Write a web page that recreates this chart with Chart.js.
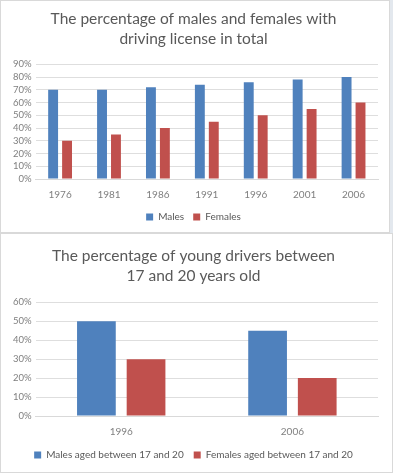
<!DOCTYPE html>
<html>
<head>
<meta charset="utf-8">
<script src="https://cdn.jsdelivr.net/npm/chart.js@4"></script>
<style>
  body { margin: 0; background: #fff; width: 393px; height: 475px; position: relative; overflow: hidden; }
  .panel { position: absolute; background: #fff; border: 1px solid #d9d9d9; box-sizing: border-box; }
  #p1 { left: 0; top: 0; width: 390px; height: 233px; }
  #p2 { left: 0; top: 233px; width: 393px; height: 240px; }
  .strip { position: absolute; left: 390px; top: 0; width: 3px; height: 233px; background: #e3e8ee; }
</style>
</head>
<body>
<div class="strip"></div>
<div class="panel" id="p1"><canvas id="chart1"></canvas></div>
<div class="panel" id="p2"><canvas id="chart2"></canvas></div>
<script>
// chart 1: license holders in total
const years = ['1976', '1981', '1986', '1991', '1996', '2001', '2006'];
const males = [70, 70, 72, 74, 76, 78, 80];
const females = [30, 35, 40, 45, 50, 55, 60];

// chart 2: young drivers 17-20
const youngYears = ['1996', '2006'];
const youngMales = [50, 45];
const youngFemales = [30, 20];

const blue = '#4f81bd';
const red = '#c0504d';
const font = "Lato, 'Open Sans', sans-serif";

function makeChart(id, title, labels, sets, yMax, catPct, barPct, pad, titleGap, legendPad) {
    return new Chart(document.getElementById(id), {
        type: 'bar',
        data: {
            labels: labels,
            datasets: sets.map(function(s) {
                return {
                    label: s.label,
                    data: s.data,
                    backgroundColor: s.color,
                    categoryPercentage: catPct,
                    barPercentage: barPct
                };
            })
        },
        options: {
            responsive: true,
            maintainAspectRatio: false,
            animation: false,
            layout: { padding: pad },
            scales: {
                x: {
                    grid: { display: false },
                    border: { color: '#d9d9d9' },
                    ticks: { color: '#7f7f7f', font: { family: font, size: 10 }, padding: 2 }
                },
                y: {
                    min: 0,
                    max: yMax,
                    grid: { color: '#dedede', drawTicks: false },
                    border: { display: false },
                    ticks: {
                        stepSize: 10,
                        autoSkip: false,
                        color: '#7f7f7f',
                        font: { family: font, size: 9.5 },
                        padding: 4,
                        callback: function(v) { return v + '%'; }
                    }
                }
            },
            plugins: {
                title: {
                    display: true,
                    text: title,
                    color: '#595959',
                    font: { family: font, size: 15.5, weight: 'normal', lineHeight: 1.3 },
                    padding: { top: 0, bottom: titleGap }
                },
                legend: {
                    position: 'bottom',
                    labels: {
                        color: '#595959',
                        font: { family: font, size: 10 },
                        boxWidth: 7,
                        boxHeight: 7,
                        padding: legendPad
                    }
                },
                tooltip: { enabled: false }
            }
        }
    });
}

makeChart('chart1',
    ['The percentage of males and females with', 'driving license in total'],
    years,
    [{ label: 'Males', data: males, color: blue }, { label: 'Females', data: females, color: red }],
    90, 0.57, 0.71,
    { top: 8, left: 8, right: 11, bottom: 0 }, 15, 9);

makeChart('chart2',
    ['The percentage of young drivers between', '17 and 20 years old'],
    youngYears,
    [{ label: 'Males aged between 17 and 20', data: youngMales, color: blue },
     { label: 'Females aged between 17 and 20', data: youngFemales, color: red }],
    60, 0.58, 0.78,
    { top: 12, left: 8, right: 14, bottom: 2 }, 16, 10);
</script>
</body>
</html>
